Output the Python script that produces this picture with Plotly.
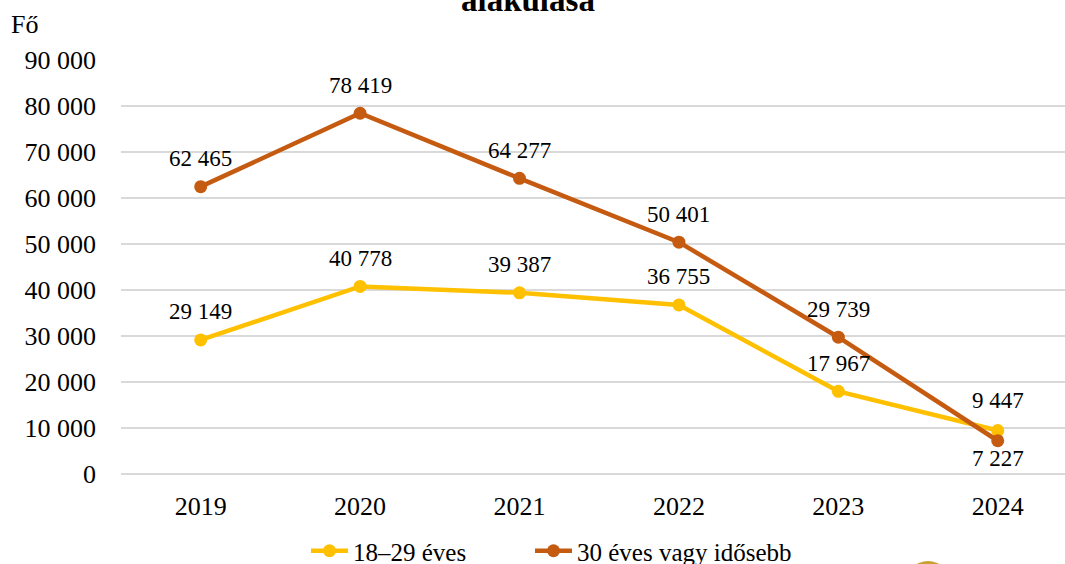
import plotly.graph_objects as go

years = ["2019", "2020", "2021", "2022", "2023", "2024"]
young = [29149, 40778, 39387, 36755, 17967, 9447]
older = [62465, 78419, 64277, 50401, 29739, 7227]
name_young = "18–29 éves"
name_older = "30 éves vagy idősebb"
y_ticks = [0, 10000, 20000, 30000, 40000, 50000, 60000, 70000, 80000, 90000]

YELLOW = "#FFC000"
ORANGE = "#C55A11"
FONT = "Liberation Serif"

L, T, PW, PH = 121, 60, 944, 414


def px_x(p):
    return (p - L) / PW


def px_y(p):
    return (T + PH - p) / PH


def fmt(v):
    return f"{v:,}".replace(",", " ")


fig = go.Figure()
fig.add_trace(go.Scatter(x=years, y=young, name=name_young, mode="lines+markers", legend="legend",
                         line=dict(color=YELLOW, width=4.5), marker=dict(size=13, color=YELLOW)))
fig.add_trace(go.Scatter(x=years, y=older, name=name_older, mode="lines+markers", legend="legend2",
                         line=dict(color=ORANGE, width=4.5), marker=dict(size=13, color=ORANGE)))

anns = []
for i, (a, b) in enumerate(zip(young, older)):
    below = a > b
    anns.append(dict(x=i, y=a, xref="x", yref="y", text=fmt(a), showarrow=False,
                     xanchor="center", yanchor="middle",
                     yshift=30 if below else 28, font=dict(size=23, color="#000", family=FONT)))
    anns.append(dict(x=i, y=b, xref="x", yref="y", text=fmt(b), showarrow=False,
                     xanchor="center", yanchor="middle",
                     yshift=-18 if below else 28, font=dict(size=23, color="#000", family=FONT)))

anns.append(dict(x=px_x(9), y=px_y(24), xref="paper", yref="paper", text="Fő",
                 showarrow=False, xanchor="left", yanchor="middle",
                 font=dict(size=26, color="#000", family=FONT)))
anns.append(dict(x=px_x(528), y=px_y(20), xref="paper", yref="paper",
                 text="<b>alakulása</b>", showarrow=False, xanchor="center", yanchor="bottom",
                 font=dict(size=33, color="#000", family=FONT)))

leg_common = dict(orientation="h", xanchor="left", yanchor="middle", y=px_y(551),
                  font=dict(size=25, family=FONT, color="#000"), bgcolor="rgba(0,0,0,0)",
                  itemwidth=37)

fig.update_layout(
    width=1065, height=564,
    margin=dict(l=L, r=0, t=T, b=564 - T - PH, autoexpand=False),
    paper_bgcolor="white", plot_bgcolor="white",
    font=dict(family=FONT, size=25, color="#000"),
    annotations=anns,
    showlegend=True,
    legend=dict(x=px_x(306), **leg_common),
    legend2=dict(x=px_x(530), **leg_common),
    shapes=[dict(type="circle", xref="paper", yref="paper",
                 x0=px_x(906), x1=px_x(950), y0=px_y(605), y1=px_y(561),
                 fillcolor="#C9A033", line=dict(width=0), layer="above")],
    xaxis=dict(type="category", range=[-0.5, 5.422], showgrid=False, showline=False,
               ticks="", ticklabelstandoff=14, tickfont=dict(size=26), automargin=False),
    yaxis=dict(range=[0, 90000], tickvals=y_ticks, ticktext=[fmt(v) for v in y_ticks],
               showgrid=True, gridcolor="#d9d9d9", gridwidth=1.5, zeroline=True,
               zerolinecolor="#d9d9d9", zerolinewidth=1.5, showline=False, ticks="",
               ticklabelstandoff=24, tickfont=dict(size=26), automargin=False),
)

fig.write_html("out.html", config={"displayModeBar": False},
               post_script="document.body.style.margin='0px';document.body.style.overflow='hidden';")
